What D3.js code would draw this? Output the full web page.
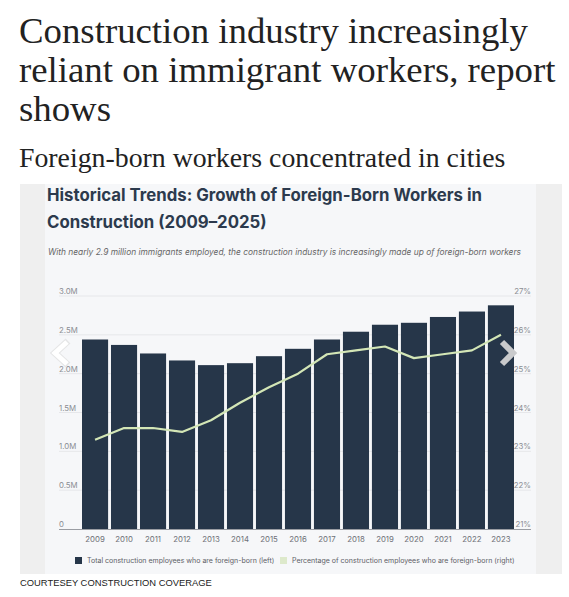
<!DOCTYPE html>
<html>
<head>
<meta charset="utf-8">
<script src="https://cdn.jsdelivr.net/npm/d3@7"></script>
<style>
  body { margin: 0; background: #fff; }
  svg { display: block; }
</style>
</head>
<body>
<script>
// data
const years = ['2009', '2010', '2011', '2012', '2013', '2014', '2015', '2016',
               '2017', '2018', '2019', '2020', '2021', '2022', '2023'];
// total foreign-born construction employees, millions (left axis)
const totals = [2.44, 2.37, 2.26, 2.17, 2.11, 2.135, 2.225, 2.32,
                2.44, 2.54, 2.63, 2.655, 2.73, 2.80, 2.88];
// share of construction employees who are foreign-born, % (right axis)
const shares = [23.3, 23.6, 23.6, 23.5, 23.8, 24.25, 24.65, 25.0,
                25.5, 25.6, 25.7, 25.4, 25.5, 25.6, 26.0];
const leftTicks = [0, 0.5, 1, 1.5, 2, 2.5, 3];
const leftTickLabels = ['0', '0.5M', '1.0M', '1.5M', '2.0M', '2.5M', '3.0M'];
const rightTicks = [21, 22, 23, 24, 25, 26, 27];
const legendLabels = ['Total construction employees who are foreign-born (left)',
                      'Percentage of construction employees who are foreign-born (right)'];

const W = 569, H = 597;
const barColor = '#263649';
const lineColor = '#d3e6b6';

const svg = d3.select('body').append('svg')
  .attr('width', W).attr('height', H);

// Headline + deck
const head = svg.append('g')
  .style('font-family', '"Liberation Serif", "Times New Roman", serif')
  .style('fill', '#222');
['Construction industry increasingly', 'reliant on immigrant workers, report', 'shows']
  .forEach((t, i) => {
    head.append('text').attr('x', 19).attr('y', 43 + i * 39)
      .style('font-size', '36.8px').text(t);
  });
head.append('text').attr('x', 19).attr('y', 167)
  .style('font-size', '27.8px').text('Foreign-born workers concentrated in cities');

// screenshot panel
svg.append('rect').attr('x', 20).attr('y', 184).attr('width', 542).attr('height', 390)
  .attr('fill', '#efefef');
svg.append('rect').attr('x', 45).attr('y', 184).attr('width', 491).attr('height', 390)
  .attr('fill', '#f6f7f9');

const sans = 'Inter, "Liberation Sans", Arial, sans-serif';

// chart title
const title = svg.append('g').style('font-family', sans)
  .style('font-weight', 700).style('fill', '#2c3a4d').style('font-size', '16.8px');
title.append('text').attr('x', 47).attr('y', 200.5)
  .text('Historical Trends: Growth of Foreign-Born Workers in');
title.append('text').attr('x', 47).attr('y', 227.5)
  .text('Construction (2009\u20132025)');

svg.append('text').attr('x', 48).attr('y', 255)
  .style('font-family', sans).style('font-style', 'italic')
  .style('font-size', '8.4px').style('fill', '#666')
  .text('With nearly 2.9 million immigrants employed, the construction industry is increasingly made up of foreign-born workers');

// scales
const x = d3.scaleBand().domain(years).range([82, 514]).paddingInner(0.1).paddingOuter(0);
const yL = d3.scaleLinear().domain([0, 3]).range([529, 296]);
const yR = d3.scaleLinear().domain([21, 27]).range([529, 296]);
const gridL = 59, gridR = 531;

// grid lines
svg.append('g').selectAll('line').data(leftTicks.slice(1)).join('line')
  .attr('x1', gridL).attr('x2', gridR)
  .attr('y1', d => yL(d)).attr('y2', d => yL(d))
  .attr('stroke', '#e6e7ea').attr('stroke-width', 1);

// bars
svg.append('g').selectAll('rect').data(years).join('rect')
  .attr('x', d => x(d)).attr('width', x.bandwidth())
  .attr('y', (d, i) => yL(totals[i]))
  .attr('height', (d, i) => yL(0) - yL(totals[i]))
  .attr('fill', barColor);

// baseline
svg.append('line').attr('x1', gridL).attr('x2', gridR)
  .attr('y1', yL(0) + 0.5).attr('y2', yL(0) + 0.5)
  .attr('stroke', '#9a9da3').attr('stroke-width', 1);

// axis labels
const axisFont = g => g.style('font-family', sans).style('font-size', '7.8px').style('fill', '#8a8d93');
svg.append('g').call(axisFont).selectAll('text').data(leftTicks).join('text')
  .attr('x', gridL).attr('y', d => yL(d) - 2)
  .text((d, i) => leftTickLabels[i]);
svg.append('g').call(axisFont).selectAll('text').data(rightTicks).join('text')
  .attr('x', gridR).attr('y', d => yR(d) - 2).attr('text-anchor', 'end')
  .text(d => d + '%');

// x axis
const xAxis = svg.append('g').attr('transform', `translate(0,${yL(0) + 1})`)
  .call(d3.axisBottom(x).tickSize(0).tickPadding(6));
xAxis.select('.domain').remove();
xAxis.selectAll('text').style('font-family', sans).style('font-size', '7.8px').style('fill', '#6e7177');

// share line
const line = d3.line()
  .x((d, i) => x(years[i]) + x.bandwidth() / 2)
  .y(d => yR(d));
svg.append('path').datum(shares)
  .attr('d', line).attr('fill', 'none')
  .attr('stroke', lineColor).attr('stroke-width', 2.2)
  .attr('stroke-linejoin', 'round');

// carousel arrows overlaid on the screenshot
svg.append('path').attr('d', 'M68,341 L55,353 L68,365')
  .attr('fill', 'none').attr('stroke', '#d9d9d9').attr('stroke-width', 7).attr('opacity', 0.6);
svg.append('path').attr('d', 'M67,342 L55,353 L67,364')
  .attr('fill', 'none').attr('stroke', '#ffffff').attr('stroke-width', 5);
svg.append('path').attr('d', 'M502,342 L513,353 L502,364')
  .attr('fill', 'none').attr('stroke', '#c9cacc').attr('stroke-width', 6);

// legend
const legend = svg.append('g').style('font-family', sans).style('font-size', '7px').style('fill', '#5d6066');
const legendColors = [barColor, '#dde9cb'];
const legendX = [75, 280];
legendLabels.forEach((t, i) => {
  legend.append('rect').attr('x', legendX[i]).attr('y', 557).attr('width', 7).attr('height', 7)
    .attr('fill', legendColors[i]);
  legend.append('text').attr('x', legendX[i] + 12).attr('y', 563).text(t);
});

// credit
svg.append('text').attr('x', 20).attr('y', 586)
  .style('font-family', '"Liberation Sans", Arial, sans-serif')
  .style('font-size', '9.4px').style('fill', '#222')
  .text('COURTESEY CONSTRUCTION COVERAGE');
</script>
</body>
</html>
